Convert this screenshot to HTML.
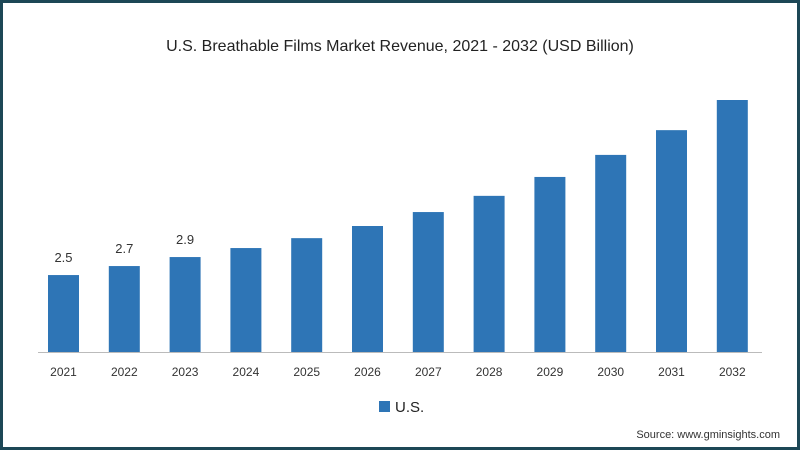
<!DOCTYPE html>
<html><head><meta charset="utf-8"><style>
html,body{margin:0;padding:0;background:#fff;}
#wrap{position:relative;width:800px;height:450px;box-sizing:border-box;border:3px solid #1d4756;background:#fff;font-family:"Liberation Sans",sans-serif;overflow:hidden;}
svg{position:absolute;left:-3px;top:-3px;}
</style></head><body>
<div id="wrap">
<svg id="chart" width="800" height="450"></svg>
</div>
<script>
const categories=["2021","2022","2023","2024","2025","2026","2027","2028","2029","2030","2031","2032"];
const values=[2.5,2.7,2.9,3.1,3.32,3.59,3.9,4.26,4.68,5.17,5.72,6.39];
const labels=["2.5","2.7","2.9","","","","","","","","",""];
const NS="http://www.w3.org/2000/svg";
const svg=document.getElementById('chart');
const baseY=352, yMin=0.79, pxPer=45;
const x0=48, step=60.8, bw=31;
function xPos(i){return x0+i*step;}
function yPos(v){return baseY-(v-yMin)*pxPer;}
function mk(tag,attrs,text){const e=document.createElementNS(NS,tag);for(const k in attrs)e.setAttribute(k,attrs[k]);if(text!==undefined)e.textContent=text;svg.appendChild(e);return e;}
let t=mk('text',{x:400,y:51,'text-anchor':'middle','font-size':'16','fill':'#222','font-family':'Liberation Sans, sans-serif'},'U.S. Breathable Films Market Revenue, 2021 - 2032 (USD Billion)');


let ax=mk('line',{x1:38,x2:762,y1:baseY+0.5,y2:baseY+0.5,stroke:'#bbb','stroke-width':1});


categories.forEach((c,i)=>{
  const y=yPos(values[i]);
  const r=mk('rect',{x:xPos(i),y:y,width:bw,height:baseY-y,fill:'#2e75b6'});
  
  
  const tl=mk('text',{x:xPos(i)+bw/2,y:376,'text-anchor':'middle','font-size':'12','fill':'#333'},c);
  
  
  if(labels[i]){
    const vl=mk('text',{x:xPos(i)+bw/2,y:y-13,'text-anchor':'middle','font-size':'13','fill':'#333'},labels[i]);
    
    
  }
});
const lg=mk('rect',{x:379,y:401,width:11,height:11,fill:'#2e75b6'});


const lt=mk('text',{x:395,y:412,'font-size':'15','fill':'#222'},'U.S.');


const src=mk('text',{x:780,y:438,'text-anchor':'end','font-size':'11','fill':'#333'},'Source: www.gminsights.com');


</script>
</body></html>
